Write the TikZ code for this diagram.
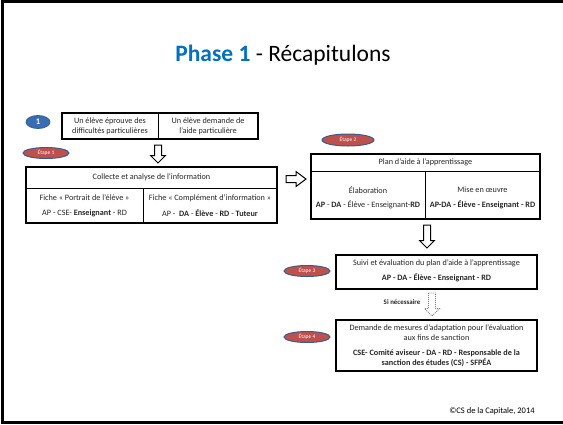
\documentclass[tikz,border=0pt]{standalone}
\usepackage{fontspec}
\setmainfont{Carlito}
\usetikzlibrary{shapes.geometric}
\definecolor{titleblue}{HTML}{0070C0}
\definecolor{onered}{HTML}{C0504D}
\definecolor{oneblue}{HTML}{3A6CB4}
\definecolor{ringblue}{HTML}{385D8A}
\definecolor{txt}{HTML}{262626}
\tikzset{
  boxline/.style={draw=black, line width=1.3pt},
  cell/.style={line width=1pt, draw=black},
  lbl/.style={font=\fontsize{8.2}{10}\selectfont, text=txt, align=center, inner sep=0pt},
  etape/.style={ellipse, fill=onered, draw=ringblue, line width=1pt, minimum width=46pt, minimum height=11pt, inner sep=0pt, text=white, font=\fontsize{5.5}{5.5}\selectfont},
  hollow/.style={draw=black, line width=1pt, fill=white, line join=miter},
}
% down hollow arrow: #1 = top centre, #2 = length
\newcommand{\downblock}[3][hollow]{%
  \draw[#1] ($#2+(-3.5,0)$) -- ($#2+(3.5,0)$) -- ($#2+(3.5,#3-7.5)$) -- ($#2+(7.5,#3-7.5)$)
    -- ($#2+(0,#3)$) -- ($#2+(-7.5,#3-7.5)$) -- ($#2+(-3.5,#3-7.5)$) -- cycle;}
\usetikzlibrary{calc}
\begin{document}
\begin{tikzpicture}[x=1pt,y=-1pt]
\useasboundingbox (0,0) rectangle (563,424);
\fill[white] (0,0) rectangle (563,424);
\draw[line width=2.6pt] (565,1.5) -- (2.5,1.5) -- (2.5,422.5) -- (565,422.5);

% title
\node[font=\fontsize{23.5}{27}\selectfont, inner sep=0pt] (title) at (283,55) {\textcolor{titleblue}{\textbf{Phase 1}} - Récapitulons};

% step 1 marker
\node[ellipse, fill=oneblue, draw=ringblue, line width=0.8pt, minimum width=24pt, minimum height=13pt, inner sep=0pt, text=white, font=\fontsize{8.5}{8.5}\selectfont\bfseries] (one) at (38,122) {1};

% top box
\draw[boxline] (62,113) rectangle (258,139);
\draw[cell] (158,113) -- (158,139);
\node[lbl] (t1) at (110,126) {Un élève éprouve des\\difficultés particulières};
\node[lbl] (t2) at (208,126) {Un élève demande de\\l'aide particulière};

\node[etape] (e1) at (46,153) {Étape 1};

% collecte box
\draw[boxline] (26,167) rectangle (277,223);
\draw[cell] (26,188) -- (277,188);
\draw[cell] (143,188) -- (143,223);
\node[lbl] (c0) at (151.5,177.5) {Collecte et analyse de l'information};
\node[lbl] (c1) at (84.5,198) {Fiche « Portrait de l'élève »};
\node[lbl] (c2) at (84.5,213) {AP - CSE- \textbf{Enseignant} - RD};
\node[lbl] (c3) at (210,198) {Fiche « Complément d'information »};
\node[lbl] (c4) at (210,213) {AP - \textbf{ DA} - \textbf{Élève} - \textbf{RD} - \textbf{Tuteur}};

\downblock{(158,145)}{18}

% right arrow
\draw[hollow] (286,175.5) -- (296,175.5) -- (296,171.5) -- (306,179) -- (296,186.5) -- (296,182.5) -- (286,182.5) -- cycle;

% etape 2
\node[etape, minimum width=52pt, minimum height=12pt] (e2) at (348,140) {Étape 2};

% plan box
\draw[boxline] (311,154) rectangle (540,219);
\draw[cell] (311,171) -- (540,171);
\draw[cell] (425,171) -- (425,219);
\node[lbl] (p0) at (425.5,162.5) {Plan d'aide à l'apprentissage};
\node[lbl] (p1) at (368,190) {Élaboration};
\node[lbl] (p2) at (368,205) {\textbf{AP} - \textbf{DA} - Élève - Enseignant-\textbf{RD}};
\node[lbl] (p3) at (482.5,190) {Mise en œuvre};
\node[lbl] (p4) at (482.5,205) {\textbf{AP-DA - Élève - Enseignant - RD}};

\downblock{(427,225)}{23}

% etape 3
\node[etape] (e3) at (307,271) {Étape 3};
\draw[boxline] (336,255) rectangle (537,289);
\node[lbl] (s1) at (436.5,263.5) {Suivi et évaluation du plan d'aide à l'apprentissage};
\node[lbl] (s2) at (436.5,278) {\textbf{AP - DA - Élève - Enseignant - RD}};

\node[lbl, font=\fontsize{6.9}{7}\selectfont\bfseries] (sn) at (402,302) {Si nécessaire};
\downblock[hollow, draw=gray, densely dotted, line width=0.9pt]{(432,293)}{23}

% etape 4
\node[etape] (e4) at (307,337) {Étape 4};
\draw[boxline] (336,320) rectangle (537,371);
\node[lbl] (d1) at (436.5,333) {Demande de mesures d'adaptation pour l'évaluation\\aux fins de sanction};
\node[lbl] (d2) at (436.5,358.5) {\textbf{CSE- Comité aviseur - DA - RD - Responsable de la}\\\textbf{sanction des études (CS) - SFPÉA}};

\node[lbl, font=\fontsize{8.5}{9}\selectfont, text=black] (copy) at (492,411) {©CS de la Capitale, 2014};
\end{tikzpicture}
\end{document}
